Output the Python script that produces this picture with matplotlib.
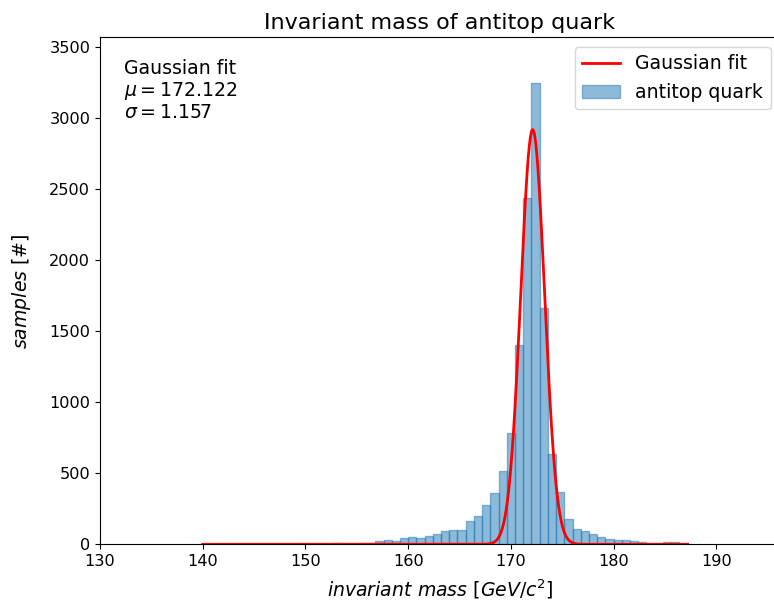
import numpy as np
import matplotlib
matplotlib.use('Agg')
import matplotlib.pyplot as plt

# histogram of antitop invariant mass, bins of 0.8 GeV starting at 140
bin_start = 140.0
bin_width = 0.8
counts = [0, 0, 1, 0, 0, 0, 1, 0, 0, 0, 1, 0, 0, 1, 2, 2,
          6, 4, 2, 6, 8,
          22, 28, 22, 42, 50, 42, 57, 71, 92, 99, 99, 162, 197, 275, 360, 516,
          787, 1400, 2435, 3250, 1665, 637, 368, 176, 111, 92, 71, 50, 35,
          28, 28, 21, 14, 8, 8, 14, 14, 8]

# fit parameters
mu = 172.122
sigma = 1.157
amplitude = 2920

plt.rcParams['font.size'] = 11.6

edges = bin_start + bin_width * np.arange(len(counts) + 1)
centers = 0.5 * (edges[:-1] + edges[1:])

x_fit = np.linspace(edges[0], edges[-1], 1000)
y_fit = amplitude * np.exp(-(x_fit - mu) ** 2 / (2 * sigma ** 2))

fig = plt.figure(figsize=(7.74, 6.04), dpi=100)
# axes runs slightly past the right edge of the image (cropped like the original)
ax = fig.add_axes([100 / 774, 1 - 544.3 / 604, 680 / 774, (544.3 - 37.3) / 604])

_, _, bars = ax.hist(centers, bins=edges, weights=counts, alpha=0.5, color='C0', ec='C0', lw=1,
                     label='antitop quark')
fit_line, = ax.plot(x_fit, y_fit, 'r', lw=2, label='Gaussian fit')

ax.text(0.035, 0.957, 'Gaussian fit\n$\\mu = %.3f$\n$\\sigma = %.3f$' % (mu, sigma),
        transform=ax.transAxes, va='top', ha='left', fontsize=13.6, linespacing=1.1)

ax.set_xlim(130, 196.2)
ax.set_ylim(0, 3570)
ax.set_title('Invariant mass of antitop quark', fontsize=16)
ax.set_xlabel('$invariant\\ mass\\ [GeV/c^2]$', fontsize=13.6, labelpad=6)
ax.set_ylabel('$samples\\ [\\#]$', fontsize=13.6, labelpad=12)
ax.legend(handles=[fit_line, bars[0]], loc='upper right', fontsize=13.6)

fig.savefig('out.png', dpi=100)
